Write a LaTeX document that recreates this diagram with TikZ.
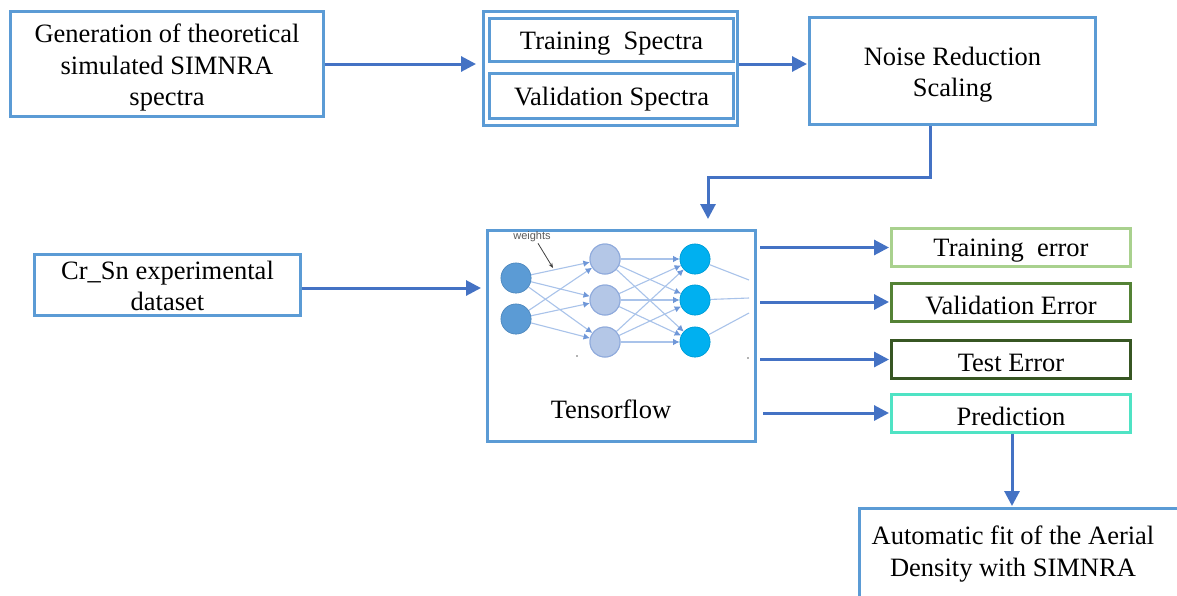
\documentclass[tikz,border=0pt]{standalone}
\usepackage{fontspec}
\setmainfont{Liberation Serif}
\newfontfamily\weightsfont{Liberation Sans}
\usetikzlibrary{arrows.meta,calc}

\definecolor{boxblue}{HTML}{5B9BD5}
\definecolor{flowblue}{HTML}{4472C4}
\definecolor{errlight}{HTML}{A9D18E}
\definecolor{errmid}{HTML}{548235}
\definecolor{errdark}{HTML}{375623}
\definecolor{predteal}{HTML}{4FE3C4}
\definecolor{inputfill}{HTML}{5B9BD5}
\definecolor{hidfill}{HTML}{B4C7E7}
\definecolor{hiddraw}{HTML}{8FAADC}
\definecolor{outfill}{HTML}{00B0F0}
\definecolor{nnline}{HTML}{A9C3EA}
\definecolor{nntip}{HTML}{6F97D8}

\begin{document}
\begin{tikzpicture}[x=1pt,y=-1pt,
  box/.style={draw=boxblue, line width=3pt, fill=white, inner sep=0pt},
  txt/.style={label={[font=\fontsize{26.5}{31.5}\selectfont, align=center,
    inner sep=0pt, yshift=-3.5pt]center:#1}},
  txtup/.style={label={[font=\fontsize{26.5}{30.5}\selectfont, align=center,
    inner sep=0pt, yshift=-1pt]center:#1}},
  errbox/.style={box, minimum width=239pt, minimum height=38pt},
  flow/.style={draw=flowblue, line width=3pt,
    -{Triangle[length=15pt,width=15pt]}},
  neuron/.style={circle, minimum size=30pt, inner sep=0pt},
  innode/.style={neuron, fill=inputfill, draw=inputfill!90!black, line width=0.6pt},
  hidnode/.style={neuron, fill=hidfill, draw=hiddraw, line width=1pt},
  outnode/.style={neuron, fill=outfill, draw=outfill!90!black, line width=0.6pt},
  nnedge/.style={draw=nnline, line width=1.1pt},
  nnarrow/.style={nnedge, -{Latex[length=6.5pt,width=6.5pt,color=nntip]}}]

\useasboundingbox (0,0) rectangle (1177,595);
\fill[white] (0,0) rectangle (1177,595);
\clip (0,0) rectangle (1177,595);

% ---- top row -------------------------------------------------------
\node[box, minimum width=313pt, minimum height=105pt,
  txt={Generation of theoretical\\simulated SIMNRA\\spectra}] (gen) at (167,64) {};

\node[box, minimum width=254pt, minimum height=114pt] (spectra) at (610.5,68.5) {};
\node[box, minimum width=244pt, minimum height=43pt,
  txt={Training\ \ Spectra}] (train) at (611.5,40) {};
\node[box, minimum width=244pt, minimum height=45pt,
  txt={Validation Spectra}] (valid) at (611.5,96) {};

\node[box, minimum width=286pt, minimum height=107pt,
  txt={Noise Reduction\\Scaling}] (noise) at (952.5,71) {};

% ---- middle row ----------------------------------------------------
\node[box, minimum width=266pt, minimum height=61pt,
  txtup={Cr\_Sn experimental\\dataset}] (cr) at (167.5,285) {};

\node[box, minimum width=268pt, minimum height=211pt] (tf) at (621.5,336) {};
\node[font=\fontsize{26.5}{31.5}\selectfont, inner sep=0pt] (tflabel) at (611,409) {Tensorflow};

% ---- neural network inside the Tensorflow block ---------------------
\node[innode] (i1) at (516,278) {};
\node[innode] (i2) at (516,319) {};
\node[hidnode] (h1) at (605,259) {};
\node[hidnode] (h2) at (605,300) {};
\node[hidnode] (h3) at (605,342) {};
\node[outnode] (o1) at (695,259) {};
\node[outnode] (o2) at (695,300) {};
\node[outnode] (o3) at (695,342) {};
\coordinate (x1) at (749,280);
\coordinate (x2) at (749,298);
\coordinate (x3) at (749,313);

\foreach \a in {i1,i2}
  \foreach \b in {h1,h2,h3}
    \draw[nnarrow] (\a) -- (\b);
\foreach \a in {h1,h2,h3}
  \foreach \b in {o1,o2,o3}
    \draw[nnarrow] (\a) -- (\b);
\draw[nnedge] (o1) -- (x1);
\draw[nnedge] (o2) -- (x2);
\draw[nnedge] (o3) -- (x3);

% neurons drawn again over their edges
\foreach \n in {i1,i2} \node[innode] at (\n) {};
\foreach \n in {h1,h2,h3} \node[hidnode] at (\n) {};
\foreach \n in {o1,o2,o3} \node[outnode] at (\n) {};

\node[font=\weightsfont\fontsize{11}{11}\selectfont, text=black!65, inner sep=1pt]
  (wlabel) at (532,237) {weights};
\coordinate (wtip) at (553,268);
\draw[black!75, line width=0.8pt, -{Stealth[length=5pt,width=4pt]}]
  ([xshift=6pt]wlabel.south) -- (wtip);

\fill[black!60] (577,356) circle (0.8pt);
\fill[black!60] (748,358) circle (0.8pt);

% ---- result boxes --------------------------------------------------
\node[errbox, draw=errlight, txt={Training\ \ error}] (terr) at (1011,247.5) {};
\node[errbox, draw=errmid, txt={Validation Error}] (verr) at (1011,302) {};
\node[errbox, draw=errdark, txt={Test Error}] (testerr) at (1011,359.5) {};
\node[errbox, draw=predteal, txt={Prediction}] (pred) at (1011,413) {};

\node[box, anchor=north west, minimum width=340pt, minimum height=110pt]
  (fit) at (858,507) {};
\node[font=\fontsize{26.5}{31.5}\selectfont, align=center, inner sep=0pt]
  (fitlabel) at (1013,554) {Automatic fit of the Aerial\\Density with SIMNRA};

% ---- connectors ----------------------------------------------------
\draw[flow, shorten >=6pt] (gen.east) -- (gen.east -| spectra.west);
\draw[flow, shorten >=1pt] (spectra.east |- gen) -- (noise.west |- gen);
\draw[flow, shorten >=10pt] ([xshift=-22pt]noise.south) -- ++(0,51)
  -| ([xshift=86.5pt]tf.north);
\draw[flow, shorten >=5pt] ([yshift=-3pt]cr.east) -- ([yshift=-3pt]cr.east -| tf.west);

\draw[flow, shorten >=1pt] ([xshift=3pt]tf.east |- terr) -- (terr.west);
\draw[flow, shorten >=1pt] ([xshift=3pt]tf.east |- verr) -- (verr.west);
\draw[flow, shorten >=1pt] ([xshift=3pt]tf.east |- testerr) -- (testerr.west);
\draw[flow, shorten >=1pt] ([xshift=6pt]tf.east |- pred) -- (pred.west);

\draw[flow, shorten >=1pt] ([xshift=1pt]pred.south) -- ([xshift=1pt]pred.south |- fit.north);

\end{tikzpicture}
\end{document}
